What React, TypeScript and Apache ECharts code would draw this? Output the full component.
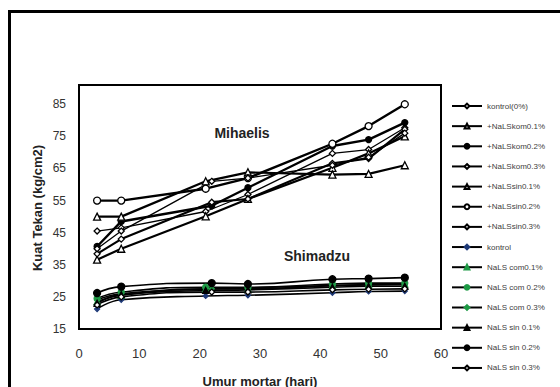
import React, { useEffect, useRef } from "react";
import * as echarts from "echarts";

// Days (x values)
const daysA = [3, 7, 21, 28, 42, 48, 54];
const daysB = [3, 7, 22, 28, 42, 48, 54];

// Mihaelis series
const mKontrol = [45.5, 46.5, 51.6, 56.9, 69.7, 70.9, 77.7];
const mKom01 = [36.6, 40, 50.1, 55.5, 65.2, 69.7, 75];
const mKom02 = [40.7, 48.5, 53.4, 59, 72, 74, 79.3];
const mKom03 = [38.4, 43, 54.5, 55.5, 66.6, 68.1, 77.2];
const mSin01 = [50, 50, 61, 63.8, 63.1, 63.3, 66];
const mSin02 = [55, 55, 58.7, 62, 72.7, 78.2, 85];
const mSin03 = [40, 45.5, 61, 62, 66, 68.5, 76];

// Shimadzu series
const sKontrol = [21.2, 24.1, 25.3, 25.5, 26.3, 26.7, 26.8];
const sCom01 = [23.5, 25.5, 27.5, 27.5, 28.5, 28.8, 29];
const sCom02 = [24.5, 26.5, 28, 28, 29, 29.3, 29.3];
const sCom03 = [24, 26, 27.5, 27.8, 28.5, 28.7, 28.8];
const sSin01 = [23, 25.7, 27, 27.2, 28, 28.3, 28.3];
const sSin02 = [26.2, 28.2, 29.3, 29, 30.5, 30.7, 31];
const sSin03 = [22.5, 25, 26.5, 26.5, 27.2, 27.4, 27.5];

const xTicks = [0, 10, 20, 30, 40, 50, 60];
const yTicks = [15, 25, 35, 45, 55, 65, 75, 85];

const FONT = "Liberation Sans";
const GREEN = "#1f9a46";
const NAVY = "#1f3a78";

const pair = (days: number[], vals: number[]) => days.map((d, i) => [d, vals[i]]);

export default function App() {
  const ref = useRef<HTMLDivElement>(null);
  useEffect(() => {
    if (!ref.current) return;
    const chart = echarts.init(ref.current, undefined, { renderer: "svg" });

    const mk = (
      name: string,
      days: number[],
      vals: number[],
      symbol: string,
      size: number,
      fill: string,
      border: string,
      lw: number,
      smooth: boolean
    ) => ({
      name,
      type: "line",
      data: pair(days, vals),
      symbol,
      symbolSize: size,
      smooth,
      showSymbol: true,
      lineStyle: { color: "#000", width: lw },
      itemStyle: { color: fill, borderColor: border, borderWidth: 1.3 },
      z: 3,
    });

    const series = [
      mk("kontrol(0%)", daysA, mKontrol, "diamond", 6, "#fff", "#000", 1.3, false),
      mk("+NaLSkom0.1%", daysA, mKom01, "triangle", 7, "#fff", "#000", 2.2, false),
      mk("+NaLSkom0.2%", daysB, mKom02, "circle", 6, "#000", "#000", 2.4, false),
      mk("+NaLSkom0.3%", daysB, mKom03, "diamond", 6, "#fff", "#000", 2.2, false),
      mk("+NaLSsin0.1%", daysA, mSin01, "triangle", 7, "#fff", "#000", 2.2, false),
      mk("+NaLSsin0.2%", daysA, mSin02, "circle", 7, "#fff", "#000", 2.4, false),
      mk("+NaLSsin0.3%", daysB, mSin03, "diamond", 6, "#fff", "#000", 1.3, false),
      mk("kontrol", daysA, sKontrol, "diamond", 5, NAVY, NAVY, 1.6, true),
      mk("NaLS com0.1%", daysA, sCom01, "triangle", 6, GREEN, GREEN, 1.6, true),
      mk("NaLS com 0.2%", daysA, sCom02, "circle", 6, GREEN, GREEN, 1.6, true),
      mk("NaLS com 0.3%", daysB, sCom03, "diamond", 5, GREEN, GREEN, 1.6, true),
      mk("NaLS sin 0.1%", daysA, sSin01, "triangle", 6, "#000", "#000", 1.6, true),
      mk("NaLS sin 0.2%", daysB, sSin02, "circle", 7, "#000", "#000", 1.6, true),
      mk("NaLS sin 0.3%", daysB, sSin03, "diamond", 6, "#fff", "#000", 1.6, true),
    ];

    chart.setOption({
      animation: false,
      grid: {
        left: 79,
        right: 119,
        top: 85,
        bottom: 58,
        show: true,
        borderColor: "#000",
        borderWidth: 2,
        backgroundColor: "transparent",
      },
      xAxis: {
        type: "value",
        min: xTicks[0],
        max: xTicks[xTicks.length - 1],
        interval: 10,
        axisLine: { show: false },
        axisTick: { show: false },
        splitLine: { show: false },
        axisLabel: { fontFamily: FONT, fontSize: 13, color: "#333", margin: 18 },
      },
      yAxis: {
        type: "value",
        min: yTicks[0],
        max: 91,
        interval: 10,
        axisLine: { show: false },
        axisTick: { show: false },
        splitLine: { show: false },
        axisLabel: {
          fontFamily: FONT,
          fontSize: 12,
          color: "#333",
          margin: 13,
          formatter: (v: number) => (yTicks.includes(v) ? String(v) : ""),
        },
      },
      legend: {
        orient: "vertical",
        left: 451,
        top: 101,
        padding: 0,
        itemWidth: 30,
        itemHeight: 6,
        itemGap: 10.15,
        textStyle: { fontFamily: FONT, fontSize: 8, lineHeight: 10, color: "#404040" },
        data: series.map((s) => s.name),
      },
      graphic: [
        {
          type: "rect",
          shape: { x: 9.5, y: 11.5, width: 620, height: 420 },
          style: { fill: "none", stroke: "#000", lineWidth: 3 },
          silent: true,
        },
        {
          type: "text",
          x: 242,
          y: 133,
          style: {
            text: "Mihaelis",
            fontFamily: FONT,
            fontSize: 14,
            fontWeight: "bold",
            fill: "#222",
            align: "center",
            verticalAlign: "middle",
          },
        },
        {
          type: "text",
          x: 317,
          y: 256,
          style: {
            text: "Shimadzu",
            fontFamily: FONT,
            fontSize: 14,
            fontWeight: "bold",
            fill: "#222",
            align: "center",
            verticalAlign: "middle",
          },
        },
        {
          type: "text",
          x: 260,
          y: 381,
          style: {
            text: "Umur mortar (hari)",
            fontFamily: FONT,
            fontSize: 13,
            fontWeight: "bold",
            fill: "#222",
            align: "center",
            verticalAlign: "middle",
          },
        },
        {
          type: "text",
          x: 37,
          y: 208,
          rotation: Math.PI / 2,
          style: {
            text: "Kuat Tekan (kg/cm2)",
            fontFamily: FONT,
            fontSize: 13,
            fontWeight: "bold",
            fill: "#222",
            align: "center",
            verticalAlign: "middle",
          },
        },
      ],
      series,
    });
    return () => chart.dispose();
  }, []);

  return (
    <div
      ref={ref}
      style={{ position: "absolute", left: 0, top: 0, width: 560, height: 387, background: "#fff" }}
    />
  );
}
